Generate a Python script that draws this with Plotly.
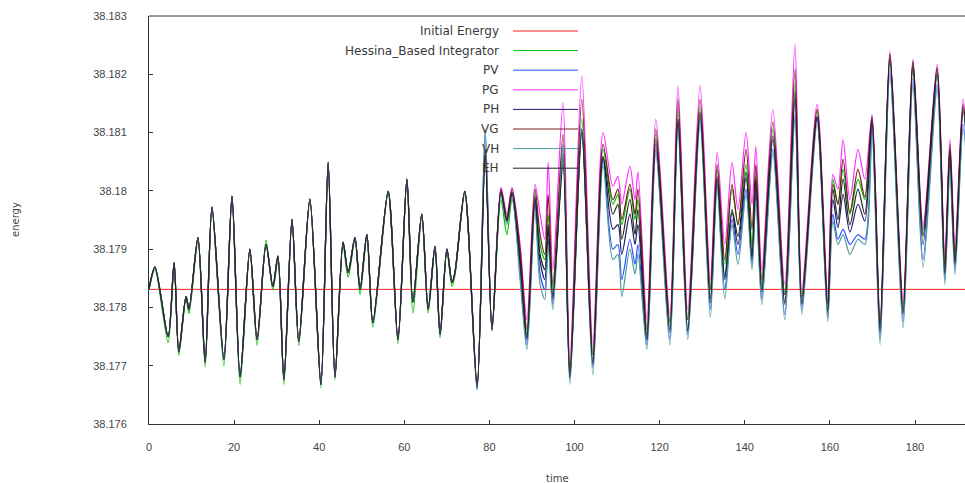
import plotly.graph_objects as go

# ---------------- data ----------------
initial_energy = 38.17831
time_span = [0.0, 193.0]

# early part: the integrators nearly coincide
t_early = [0.0, 1.4, 4.5, 5.9, 7.0, 8.7, 9.4, 11.5, 13.2, 14.8, 17.6, 19.5, 21.4, 23.7,
           25.4, 27.5, 29.1, 30.3, 31.7, 33.6, 35.2, 37.8, 40.4, 42.1, 43.7, 45.6, 46.8,
           48.4, 49.6, 51.2, 52.6, 56.2, 58.5, 60.6, 62.0, 64.1, 65.6, 67.2, 68.4, 70.0,
           71.2, 71.9, 74.2]
e_early = [38.17832, 38.17869, 38.17750, 38.17877, 38.17724, 38.17819, 38.17797, 38.17920,
           38.17706, 38.17972, 38.17711, 38.17991, 38.17681, 38.17900, 38.17745, 38.17908,
           38.17836, 38.17888, 38.17676, 38.17951, 38.17742, 38.17986, 38.17668, 38.18049,
           38.17681, 38.17912, 38.17860, 38.17920, 38.17831, 38.17925, 38.17774, 38.17999,
           38.17745, 38.18020, 38.17809, 38.17960, 38.17797, 38.17905, 38.17754, 38.17900,
           38.17843, 38.17860, 38.17999]
hb_early = [38.17830, 38.17865, 38.17740, 38.17872, 38.17718, 38.17815, 38.17790, 38.17912,
            38.17698, 38.17965, 38.17700, 38.17985, 38.17668, 38.17895, 38.17735, 38.17915,
            38.17830, 38.17880, 38.17668, 38.17945, 38.17735, 38.17980, 38.17662, 38.18040,
            38.17676, 38.17905, 38.17852, 38.17915, 38.17822, 38.17920, 38.17766, 38.17994,
            38.17738, 38.18014, 38.17790, 38.17955, 38.17790, 38.17900, 38.17748, 38.17895,
            38.17836, 38.17855, 38.17994]

# late part: the integrators drift apart
t_late = [77.1, 79.0, 80.6, 82.7, 84.1, 85.3, 87.2, 88.8, 90.7, 91.9, 93.0, 93.8, 94.9, 97.3,
          98.9, 101.7, 104.3, 106.7, 109.0, 110.2, 111.1, 113.0, 114.2, 114.9, 117.0, 119.1,
          122.4, 124.3, 126.6, 129.5, 131.9, 133.5, 135.3, 137.0, 138.4, 140.3, 141.7, 142.6,
          144.0, 146.6, 149.4, 151.8, 153.4, 157.0, 159.5, 160.7, 161.9, 163.1, 164.7, 166.6,
          168.2, 169.9, 171.8, 174.1, 177.2, 179.5, 181.9, 185.2, 187.0, 188.2, 189.4, 191.3,
          193.0]

hb_late = [38.17668, 38.18071, 38.17765, 38.17985, 38.17925, 38.17985, 38.17891, 38.17753, 38.17994, 38.17908,
           38.17882, 38.17960, 38.17831, 38.18054, 38.17693, 38.18123, 38.17719, 38.18071, 38.17977, 38.17994,
           38.17942, 38.18003, 38.17951, 38.17985, 38.17753, 38.18097, 38.17771, 38.18140, 38.17779, 38.18143,
           38.17831, 38.18037, 38.17874, 38.18003, 38.17942, 38.18045, 38.17908, 38.18028, 38.17839, 38.18106,
           38.17822, 38.18183, 38.17817, 38.18137, 38.17805, 38.18020, 38.17977, 38.18037, 38.17960, 38.18020,
           38.17985, 38.18126, 38.17771, 38.18226, 38.17796, 38.18212, 38.17925, 38.18200, 38.17874, 38.18071,
           38.17891, 38.18140, 38.17994]

pv_late = [38.17659, 38.18100, 38.17762, 38.18003, 38.17951, 38.17994, 38.17857, 38.17736, 38.17977, 38.17857,
           38.17831, 38.17917, 38.17805, 38.18080, 38.17676, 38.18106, 38.17697, 38.18054, 38.17900, 38.17908,
           38.17848, 38.17917, 38.17874, 38.17908, 38.17736, 38.18071, 38.17745, 38.18114, 38.17753, 38.18123,
           38.17796, 38.18011, 38.17831, 38.17951, 38.17891, 38.18003, 38.17874, 38.17994, 38.17814, 38.18071,
           38.17788, 38.18131, 38.17796, 38.18123, 38.17783, 38.17960, 38.17917, 38.17934, 38.17908, 38.17925,
           38.17917, 38.18106, 38.17745, 38.18209, 38.17776, 38.18192, 38.17882, 38.18183, 38.17848, 38.18045,
           38.17865, 38.18114, 38.17960]

pg_late = [38.17668, 38.18063, 38.17762, 38.18006, 38.17960, 38.18006, 38.17908, 38.17779, 38.18011, 38.17960,
           38.17917, 38.18049, 38.17865, 38.18152, 38.17711, 38.18197, 38.17736, 38.18100, 38.18008, 38.18025,
           38.17977, 38.18042, 38.17985, 38.18032, 38.17779, 38.18123, 38.17788, 38.18180, 38.17796, 38.18180,
           38.17848, 38.18066, 38.17908, 38.18049, 38.17968, 38.18100, 38.17977, 38.18076, 38.17865, 38.18140,
           38.17839, 38.18252, 38.17831, 38.18149, 38.17822, 38.18028, 38.18003, 38.18088, 38.17985, 38.18071,
           38.18020, 38.18131, 38.17779, 38.18240, 38.17814, 38.18226, 38.17942, 38.18217, 38.17891, 38.18088,
           38.17908, 38.18157, 38.18003]

ph_late = [38.17662, 38.18071, 38.17762, 38.17999, 38.17948, 38.17997, 38.17874, 38.17745, 38.17985, 38.17879,
           38.17848, 38.17934, 38.17814, 38.18063, 38.17680, 38.18106, 38.17702, 38.18058, 38.17934, 38.17942,
           38.17891, 38.17960, 38.17908, 38.17942, 38.17745, 38.18080, 38.17757, 38.18123, 38.17759, 38.18131,
           38.17808, 38.18020, 38.17848, 38.17963, 38.17908, 38.18023, 38.17882, 38.18011, 38.17826, 38.18088,
           38.17805, 38.18157, 38.17805, 38.18126, 38.17791, 38.17985, 38.17937, 38.17994, 38.17929, 38.17977,
           38.17948, 38.18118, 38.17757, 38.18226, 38.17788, 38.18212, 38.17908, 38.18200, 38.17857, 38.18063,
           38.17874, 38.18137, 38.17977]

vg_late = [38.17666, 38.18063, 38.17762, 38.18003, 38.17954, 38.18003, 38.17900, 38.17762, 38.18003, 38.17925,
           38.17891, 38.17994, 38.17839, 38.18097, 38.17693, 38.18157, 38.17719, 38.18080, 38.17985, 38.18003,
           38.17951, 38.18011, 38.17960, 38.18003, 38.17762, 38.18106, 38.17776, 38.18157, 38.17779, 38.18157,
           38.17831, 38.18045, 38.17882, 38.18011, 38.17942, 38.18071, 38.17934, 38.18045, 38.17848, 38.18118,
           38.17822, 38.18209, 38.17819, 38.18140, 38.17808, 38.18011, 38.17977, 38.18054, 38.17963, 38.18037,
           38.17989, 38.18128, 38.17771, 38.18234, 38.17805, 38.18222, 38.17934, 38.18212, 38.17874, 38.18080,
           38.17891, 38.18149, 38.17994]

vh_late = [38.17659, 38.18106, 38.17759, 38.17994, 38.17942, 38.17989, 38.17848, 38.17728, 38.17968, 38.17839,
           38.17814, 38.17908, 38.17796, 38.18071, 38.17668, 38.18097, 38.17685, 38.18045, 38.17882, 38.17891,
           38.17819, 38.17900, 38.17857, 38.17891, 38.17728, 38.18063, 38.17736, 38.18106, 38.17745, 38.18114,
           38.17783, 38.18003, 38.17814, 38.17942, 38.17874, 38.17994, 38.17865, 38.17985, 38.17805, 38.18063,
           38.17779, 38.18123, 38.17788, 38.18114, 38.17776, 38.17948, 38.17908, 38.17925, 38.17891, 38.17917,
           38.17908, 38.18097, 38.17736, 38.18200, 38.17765, 38.18183, 38.17869, 38.18174, 38.17839, 38.18037,
           38.17857, 38.18106, 38.17951]

eh_late = [38.17664, 38.18063, 38.17762, 38.17997, 38.17948, 38.17997, 38.17882, 38.17748, 38.17989, 38.17891,
           38.17865, 38.17942, 38.17819, 38.18045, 38.17681, 38.18100, 38.17705, 38.18059, 38.17960, 38.17977,
           38.17917, 38.17985, 38.17925, 38.17968, 38.17745, 38.18088, 38.17762, 38.18123, 38.17762, 38.18135,
           38.17814, 38.18025, 38.17853, 38.17968, 38.17922, 38.18032, 38.17887, 38.18020, 38.17831, 38.18094,
           38.17808, 38.18169, 38.17808, 38.18128, 38.17796, 38.18003, 38.17951, 38.18020, 38.17942, 38.18003,
           38.17960, 38.18123, 38.17762, 38.18234, 38.17791, 38.18221, 38.17922, 38.18209, 38.17860, 38.18071,
           38.17877, 38.18145, 38.17985]

series_names = ["Hessina_Based Integrator", "PV", "PG", "PH", "VG", "VH", "EH"]
series_early = [hb_early, e_early, e_early, e_early, e_early, e_early, e_early]
series_late = [hb_late, pv_late, pg_late, ph_late, vg_late, vh_late, eh_late]
series_colors = ["#00c000", "#2850ff", "#ff30ff", "#1c1c66", "#7a1a1a", "#4f9a9a", "#222222"]
energy_color = "#ff1a1a"

x_ticks = [0, 20, 40, 60, 80, 100, 120, 140, 160, 180]
y_ticks = [38.176, 38.177, 38.178, 38.179, 38.180, 38.181, 38.182, 38.183]
y_ticktext = ["38.176", "38.177", "38.178", "38.179", "38.18", "38.181", "38.182", "38.183"]

# ---------------- figure ----------------
fig = go.Figure()
fig.add_trace(go.Scatter(x=time_span, y=[initial_energy, initial_energy], mode="lines",
                         line=dict(color=energy_color, width=1), showlegend=False,
                         hoverinfo="skip"))
for name, early, late, col in zip(series_names, series_early, series_late, series_colors):
    fig.add_trace(go.Scatter(x=t_early + t_late, y=early + late, mode="lines", name=name,
                             line=dict(color=col, width=1.2, shape="spline", smoothing=0.8),
                             showlegend=False))

# gnuplot-style key: right-aligned text, line sample to the right
PX_L, PX_R, PX_T, PX_B = 149, 965, 16, 424
def px(xp):
    return (xp - PX_L) / (PX_R - PX_L)
def py(yp):
    return (PX_B - yp) / (PX_B - PX_T)

key_labels = ["Initial Energy"] + series_names
key_colors = [energy_color] + series_colors
annotations = []
shapes = []
for i, (lab, col) in enumerate(zip(key_labels, key_colors)):
    yy = py(31 + 19.6 * i)
    annotations.append(dict(x=px(501), y=yy, xref="paper", yref="paper", text=lab,
                            showarrow=False, xanchor="right", yanchor="middle",
                            font=dict(family="DejaVu Sans", size=12, color="#3a3a3a")))
    shapes.append(dict(type="line", xref="paper", yref="paper", x0=px(513), x1=px(578),
                       y0=yy, y1=yy, line=dict(color=col, width=1)))

shapes.append(dict(type="line", xref="paper", yref="paper", x0=0, x1=1, y0=1, y1=1,
                   line=dict(color="#333333", width=1)))

annotations.append(dict(x=px(15), y=0.5, xref="paper", yref="paper", text="energy",
                        textangle=-90, showarrow=False, xanchor="center", yanchor="middle",
                        font=dict(family="DejaVu Sans", size=10, color="#444444")))
annotations.append(dict(x=0.5, y=py(478), xref="paper", yref="paper", text="time",
                        showarrow=False, xanchor="center", yanchor="middle",
                        font=dict(family="DejaVu Sans", size=10, color="#444444")))

fig.update_layout(
    width=965, height=483,
    margin=dict(l=PX_L, r=0, t=PX_T, b=483 - PX_B, pad=0, autoexpand=False),
    paper_bgcolor="white", plot_bgcolor="white",
    showlegend=False,
    annotations=annotations, shapes=shapes,
    xaxis=dict(range=[0, 191.75], tickvals=x_ticks, ticks="inside", ticklen=4,
               tickcolor="#333333", showline=True, linecolor="#333333", linewidth=1,
               showgrid=False, zeroline=False, ticklabelstandoff=13, automargin=False,
               tickfont=dict(family="Liberation Sans", size=11, color="#444444")),
    yaxis=dict(range=[38.176, 38.183], tickvals=y_ticks, ticktext=y_ticktext,
               ticks="inside", ticklen=4, tickcolor="#333333", showline=True,
               linecolor="#333333", linewidth=1, showgrid=False, zeroline=False,
               ticklabelstandoff=19, automargin=False,
               tickfont=dict(family="Liberation Sans", size=11, color="#444444")),
)

fig.write_html("out.html", config={"displayModeBar": False},
               post_script="document.body.style.margin='0';document.body.style.overflow='hidden';")
